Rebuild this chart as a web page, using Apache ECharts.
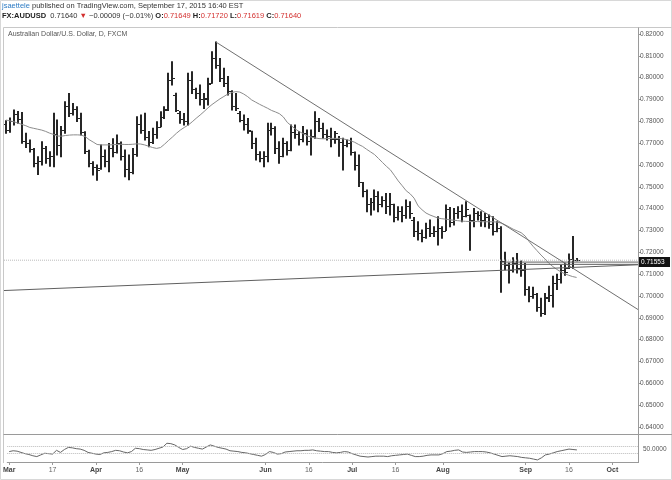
<!DOCTYPE html>
<html><head><meta charset="utf-8">
<script src="https://cdn.jsdelivr.net/npm/echarts@6/dist/echarts.min.js"></script>
<style>html,body{margin:0;padding:0;background:#fff;}#c{width:672px;height:480px;}</style>
</head><body><div id="c"></div>
<script>
// ---- data ----
const openP = [.7790,.7762,.7800,.7835,.7812,.7712,.7700,.7672,.7610,.7620,
.7680,.7630,.7640,.7740,.7690,.7760,.7870,.7840,.7855,.7815,
.7750,.7665,.7610,.7590,.7585,.7640,.7620,.7680,.7660,.7700,
.7640,.7580,.7570,.7650,.7790,.7760,.7730,.7705,.7740,.7775,
.7820,.7855,.7990,.7920,.7840,.7810,.7800,.7990,.7950,.7930,
.7900,.7905,.7975,.8090,.8060,.8000,.7975,.7940,.7870,.7840,
.7805,.7790,.7755,.7700,.7650,.7630,.7640,.7760,.7770,.7680,
.7640,.7700,.7670,.7750,.7740,.7720,.7745,.7710,.7735,.7800,
.7770,.7740,.7735,.7720,.7720,.7705,.7690,.7700,.7660,.7600,
.7520,.7480,.7420,.7430,.7460,.7420,.7440,.7410,.7420,.7360,
.7390,.7370,.7410,.7350,.7300,.7290,.7270,.7310,.7290,.7300,
.7310,.7300,.7400,.7340,.7380,.7390,.7365,.7370,.7350,.7380,
.7370,.7350,.7360,.7330,.7300,.7310,.7160,.7140,.7120,.7150,
.7130,.7120,.7030,.7000,.7010,.6950,.6920,.6995,.7005,.7060,
.7080,.7120,.7130,.7170,.71649];
const highP = [.7803,.7815,.7852,.7845,.7840,.7745,.7715,.7676,.7638,.7707,
.7685,.7661,.7837,.7806,.7776,.7890,.7928,.7882,.7867,.7837,
.7752,.7668,.7615,.7600,.7692,.7669,.7699,.7720,.7737,.7705,
.7669,.7646,.7676,.7821,.7829,.7837,.7753,.7768,.7798,.7844,
.7867,.8020,.8073,.7929,.7845,.7836,.8020,.8027,.7951,.7966,
.7928,.7997,.8119,.8163,.8088,.8043,.8005,.7940,.7928,.7845,
.7829,.7813,.7755,.7722,.7661,.7661,.7791,.7791,.7775,.7707,
.7722,.7707,.7783,.7783,.7753,.7776,.7760,.7760,.7844,.7813,
.7791,.7760,.7768,.7753,.7730,.7722,.7715,.7722,.7660,.7646,
.7520,.7486,.7447,.7486,.7478,.7455,.7470,.7470,.7420,.7409,
.7409,.7440,.7432,.7360,.7340,.7302,.7333,.7348,.7317,.7363,
.7317,.7417,.7405,.7401,.7409,.7417,.7432,.7371,.7401,.7386,
.7386,.7378,.7371,.7363,.7340,.7317,.7200,.7150,.7175,.7195,
.7160,.7149,.7042,.7040,.7012,.6990,.7012,.7045,.7090,.7100,
.7140,.7150,.7192,.7272,.71720];
const lowP = [.7745,.7750,.7783,.7791,.7700,.7680,.7660,.7592,.7556,.7600,
.7608,.7594,.7592,.7646,.7638,.7745,.7822,.7829,.7799,.7737,
.7653,.7592,.7554,.7530,.7580,.7592,.7569,.7638,.7655,.7623,
.7546,.7533,.7560,.7640,.7745,.7715,.7684,.7699,.7722,.7775,
.7813,.7850,.7966,.7845,.7791,.7783,.7783,.7928,.7905,.7875,
.7859,.7875,.7975,.8043,.7982,.7959,.7921,.7852,.7850,.7798,
.7760,.7745,.7676,.7623,.7615,.7592,.7615,.7737,.7653,.7608,
.7638,.7646,.7665,.7722,.7692,.7707,.7692,.7646,.7722,.7753,
.7722,.7715,.7684,.7700,.7640,.7577,.7684,.7646,.7577,.7501,
.7455,.7386,.7371,.7394,.7386,.7409,.7378,.7371,.7340,.7348,
.7340,.7356,.7356,.7272,.7256,.7249,.7265,.7272,.7272,.7234,
.7264,.7300,.7317,.7325,.7356,.7340,.7363,.7210,.7317,.7348,
.7320,.7317,.7310,.7279,.7294,.7017,.7120,.7060,.7110,.7105,
.7090,.7004,.6974,.6990,.6930,.6907,.6915,.6975,.6950,.7030,
.7060,.7095,.7126,.7126,.71619];
const closeP = [.7762,.7800,.7835,.7812,.7712,.7700,.7672,.7610,.7620,.7680,
.7630,.7640,.7740,.7690,.7760,.7870,.7840,.7855,.7815,.7750,
.7665,.7610,.7590,.7575,.7640,.7620,.7680,.7660,.7700,.7640,
.7580,.7570,.7650,.7790,.7760,.7730,.7705,.7740,.7775,.7820,
.7850,.7990,.8000,.7850,.7810,.7800,.7990,.7950,.7930,.7900,
.7900,.7970,.8090,.8060,.8000,.7975,.7940,.7870,.7860,.7805,
.7790,.7760,.7700,.7650,.7630,.7640,.7760,.7770,.7680,.7640,
.7700,.7670,.7750,.7740,.7720,.7745,.7710,.7735,.7800,.7770,
.7740,.7735,.7720,.7745,.7705,.7690,.7700,.7660,.7600,.7520,
.7480,.7420,.7430,.7460,.7420,.7440,.7410,.7420,.7360,.7390,
.7370,.7410,.7380,.7300,.7290,.7270,.7310,.7290,.7300,.7310,
.7300,.7400,.7340,.7380,.7390,.7365,.7400,.7350,.7380,.7370,
.7350,.7360,.7330,.7300,.7310,.7160,.7140,.7120,.7150,.7130,
.7120,.7030,.7000,.7010,.6950,.6920,.6990,.7005,.7060,.7080,
.7120,.7110,.7170,.7165,.71640];
const maValues = [.7806,.7802,.7798,.7792,.7786,.7780,.7772,.7768,.7764,.7760,
.7754,.7746,.7740,.7733,.7732,.7735,.7737,.7738,.7738,.7737,
.7730,.7716,.7705,.7694,.7692,.7692,.7692,.7693,.7694,.7695,
.7694,.7694,.7695,.7697,.7696,.7692,.7686,.7680,.7676,.7680,
.7695,.7712,.7728,.7745,.7760,.7772,.7783,.7798,.7814,.7829,
.7845,.7862,.7877,.7890,.7903,.7914,.7925,.7932,.7936,.7934,
.7925,.7913,.7898,.7888,.7878,.7869,.7860,.7850,.7843,.7835,
.7820,.7795,.7780,.7765,.7753,.7744,.7733,.7728,.7724,.7721,
.7720,.7721,.7722,.7722,.7722,.7720,.7716,.7711,.7704,.7694,
.7685,.7672,.7660,.7648,.7630,.7612,.7594,.7578,.7553,.7527,
.7505,.7482,.7468,.7448,.7413,.7395,.7380,.7371,.7364,.7357,
.7354,.7352,.7349,.7347,.7345,.7343,.7342,.7341,.7341,.7341,
.7340,.7340,.7340,.7340,.7338,.7334,.7326,.7316,.7306,.7298,
.7290,.7275,.7250,.7228,.7208,.7188,.7170,.7150,.7135,.7122,
.7111,.7102,.7095,.7089,.7085];
const oscValues = [45,47,46,43,40,38,35,33,37,41,
40,39,48,43,50,55,54,52,51,48,
43,41,39,38,42,43,45,48,47,44,
42,45,53,52,50,49,48,50,53,56,
65,64,61,55,50,52,58,55,53,51,
56,61,58,55,53,51,47,46,45,43,
42,40,38,36,34,38,45,43,39,40,
44,45,46,47,47,48,48,49,47,46,
45,45,43,42,43,45,44,40,37,34,
33,32,33,34,34,34,33,35,36,37,
38,39,36,33,33,34,36,37,37,37,
40,45,46,48,49,44,43,44,45,45,
45,44,42,39,36,33,34,35,34,33,
31,30,29,27,25,30,37,39,42,45,
47,49,51,50,49];
const oscLevels = [58.4, 41.6];
// drawn lines: [startIndex, startPrice], [endIndex, endPrice]
const resistanceLine = [[53, 0.8163], [159.5, 0.6938]];
const supportLine = [[-0.5, 0.7025], [159.5, 0.7143]];
const levelLineA = [[125, 0.71553], [159.5, 0.71553]];
const levelLineB = [[125, 0.7145], [159.5, 0.7145]];
const lastPriceLine = [[-0.5, 0.7164], [159.5, 0.7164]];
const markedLevel = 0.71553;
const xTickLabels = {'2015-03-02':'Mar','2015-03-17':'17','2015-04-01':'Apr','2015-04-16':'16',
 '2015-05-01':'May','2015-06-01':'Jun','2015-06-16':'16','2015-07-01':'Jul','2015-07-16':'16',
 '2015-08-03':'Aug','2015-09-01':'Sep','2015-09-16':'16','2015-10-01':'Oct'};
const monthNames = ['Mar','Apr','May','Jun','Jul','Aug','Sep','Oct'];

// trading-day calendar (weekdays) from 2015-03-02, 160 slots
const dates = [];
{ let d = new Date(Date.UTC(2015,2,2));
  while (dates.length < 160) { const wd = d.getUTCDay();
    if (wd !== 0 && wd !== 6) dates.push(d.toISOString().slice(0,10));
    d = new Date(d.getTime() + 86400000); } }

const ohlc = openP.map((o,i)=>[i, o, closeP[i], lowP[i], highP[i]]);
const FONT = 'Arial, "Liberation Sans", sans-serif';
const chart = echarts.init(document.getElementById('c'), null, {renderer:'canvas'});
const L = 4, W = 634;
const baseGraphic = [
  {id:'frame', type:'rect', shape:{x:0.5,y:0.5,width:671,height:479}, style:{fill:'none', stroke:'#d8d8d8', lineWidth:1}, silent:true, z:0},
  {id:'top', type:'line', shape:{x1:3.5,y1:27.5,x2:671.5,y2:27.5}, style:{stroke:'#c8c8c8'}, silent:true},
  {id:'left', type:'line', shape:{x1:3.5,y1:27.5,x2:3.5,y2:463}, style:{stroke:'#c8c8c8'}, silent:true},
  {id:'axisV', type:'line', shape:{x1:638.5,y1:27.5,x2:638.5,y2:463}, style:{stroke:'#9a9a9a'}, silent:true},
  {id:'sep', type:'line', shape:{x1:3.5,y1:434.5,x2:672,y2:434.5}, style:{stroke:'#9a9a9a'}, silent:true},
  {id:'h1', type:'text', left:2, top:2, silent:true, style:{
    text:'{u|jsaettele} published on TradingView.com, September 17, 2015 16:40 EST',
    fill:'#333', font:'7.5px '+FONT,
    rich:{u:{fill:'#2d7bc4', fontSize:7.5, fontFamily:FONT}}}},
  {id:'h2', type:'text', left:2, top:12, silent:true, style:{
    text:'{b|FX:AUDUSD}  0.71640 {r|\u25BC} \u22120.00009 (\u22120.01%) {b|O:}{r|0.71649} {b|H:}{r|0.71720} {b|L:}{r|0.71619} {b|C:}{r|0.71640}',
    fill:'#333', font:'7.5px '+FONT,
    rich:{b:{fontWeight:'bold', fill:'#222', fontSize:7.5, fontFamily:FONT}, r:{fill:'#d3302f', fontSize:7.5, fontFamily:FONT}}}},
  {id:'legend', type:'text', left:8, top:31, silent:true, style:{text:'Australian Dollar/U.S. Dollar, D, FXCM', fill:'#555', font:'7px '+FONT}}
];
chart.setOption({
  animation:false,
  backgroundColor:'#fff',
  grid:[{left:L, top:34, width:W, height:393},{left:L, top:437, width:W, height:25}],
  xAxis:[
    {type:'category', gridIndex:0, data:dates, show:false, boundaryGap:true},
    {type:'value', gridIndex:0, min:-0.5, max:159.5, show:false},
    {type:'category', gridIndex:1, data:dates, boundaryGap:true,
     axisLine:{show:true, onZero:false, lineStyle:{color:'#9a9a9a'}},
     axisTick:{show:true, length:3, alignWithLabel:true, interval:(i,v)=>!!xTickLabels[v], lineStyle:{color:'#9a9a9a'}},
     axisLabel:{interval:(i,v)=>!!xTickLabels[v], margin:5,
       formatter:v=>{const t=xTickLabels[v]; return monthNames.includes(t)?'{b|'+t+'}':'{n|'+t+'}';},
       rich:{b:{fontWeight:'bold',fontSize:7,color:'#444',fontFamily:FONT},n:{fontSize:7,color:'#666',fontFamily:FONT}}}}
  ],
  yAxis:[
    {type:'value', gridIndex:0, position:'right', min:0.64, max:0.82, interval:0.01,
     axisLine:{show:false, onZero:false}, splitLine:{show:false},
     axisTick:{show:true, length:3, lineStyle:{color:'#9a9a9a'}},
     axisLabel:{fontSize:6.5, color:'#555', margin:2, fontFamily:FONT, formatter:v=>v.toFixed(5)}},
    {type:'value', gridIndex:1, position:'right', min:20, max:80, interval:10,
     axisLine:{show:false, onZero:false}, splitLine:{show:false}, axisTick:{show:false},
     axisLabel:{fontSize:6.5, color:'#555', margin:5, fontFamily:FONT, formatter:v=>v===50?'50.0000':''}}
  ],
  series:[
    {type:'line', xAxisIndex:1, yAxisIndex:0, data:lastPriceLine, symbol:'none', silent:true,
     lineStyle:{color:'#bbb', width:1, type:'dotted'}},
    {type:'line', xAxisIndex:0, yAxisIndex:0, data:maValues, symbol:'none', silent:true,
     lineStyle:{color:'#8c8c8c', width:1}},
    {type:'custom', xAxisIndex:0, yAxisIndex:0, data:ohlc, clip:true,
     renderItem:(params, api)=>{
       const x = api.value(0);
       const o = api.coord([x, api.value(1)]), c = api.coord([x, api.value(2)]);
       const l = api.coord([x, api.value(3)]), h = api.coord([x, api.value(4)]);
       const cx = Math.round(h[0]);
       const st = {stroke:'#262626', lineWidth:2};
       const st1 = {stroke:'#262626', lineWidth:1};
       return {type:'group', children:[
         {type:'line', shape:{x1:cx, y1:h[1]-0.5, x2:cx, y2:l[1]+0.5}, style:st},
         {type:'line', shape:{x1:cx-3, y1:Math.round(o[1])+0.5, x2:cx, y2:Math.round(o[1])+0.5}, style:st1},
         {type:'line', shape:{x1:cx, y1:Math.round(c[1])+0.5, x2:cx+3, y2:Math.round(c[1])+0.5}, style:st1}
       ]};
     }},
    {type:'line', xAxisIndex:1, yAxisIndex:0, data:resistanceLine, symbol:'none', silent:true, lineStyle:{color:'#707070', width:1}},
    {type:'line', xAxisIndex:1, yAxisIndex:0, data:supportLine, symbol:'none', silent:true, lineStyle:{color:'#606060', width:1}},
    {type:'line', xAxisIndex:1, yAxisIndex:0, data:levelLineA, symbol:'none', silent:true, lineStyle:{color:'#606060', width:1}},
    {type:'line', xAxisIndex:1, yAxisIndex:0, data:levelLineB, symbol:'none', silent:true, lineStyle:{color:'#606060', width:1}},
    {type:'line', xAxisIndex:2, yAxisIndex:1, data:oscValues, symbol:'none', silent:true,
     lineStyle:{color:'#666', width:1},
     markLine:{silent:true, symbol:'none', label:{show:false},
       lineStyle:{color:'#bbb', width:1, type:'dotted'}, data:oscLevels.map(v=>({yAxis:v}))}}
  ],
  graphic:baseGraphic
});
// marker label for the drawn level on the price scale
const py = Math.round(chart.convertToPixel({xAxisIndex:1, yAxisIndex:0}, [0, markedLevel])[1]);
chart.setOption({graphic:[
  {id:'lvlBox', type:'rect', shape:{x:639, y:py-5, width:31, height:10}, style:{fill:'#111'}, silent:true, z:10},
  {id:'lvlText', type:'text', x:641, y:py, silent:true, z:11, style:{text:markedLevel.toFixed(5), fill:'#fff', font:'6.5px '+FONT, verticalAlign:'middle', textVerticalAlign:'middle'}}
]});
</script></body></html>
